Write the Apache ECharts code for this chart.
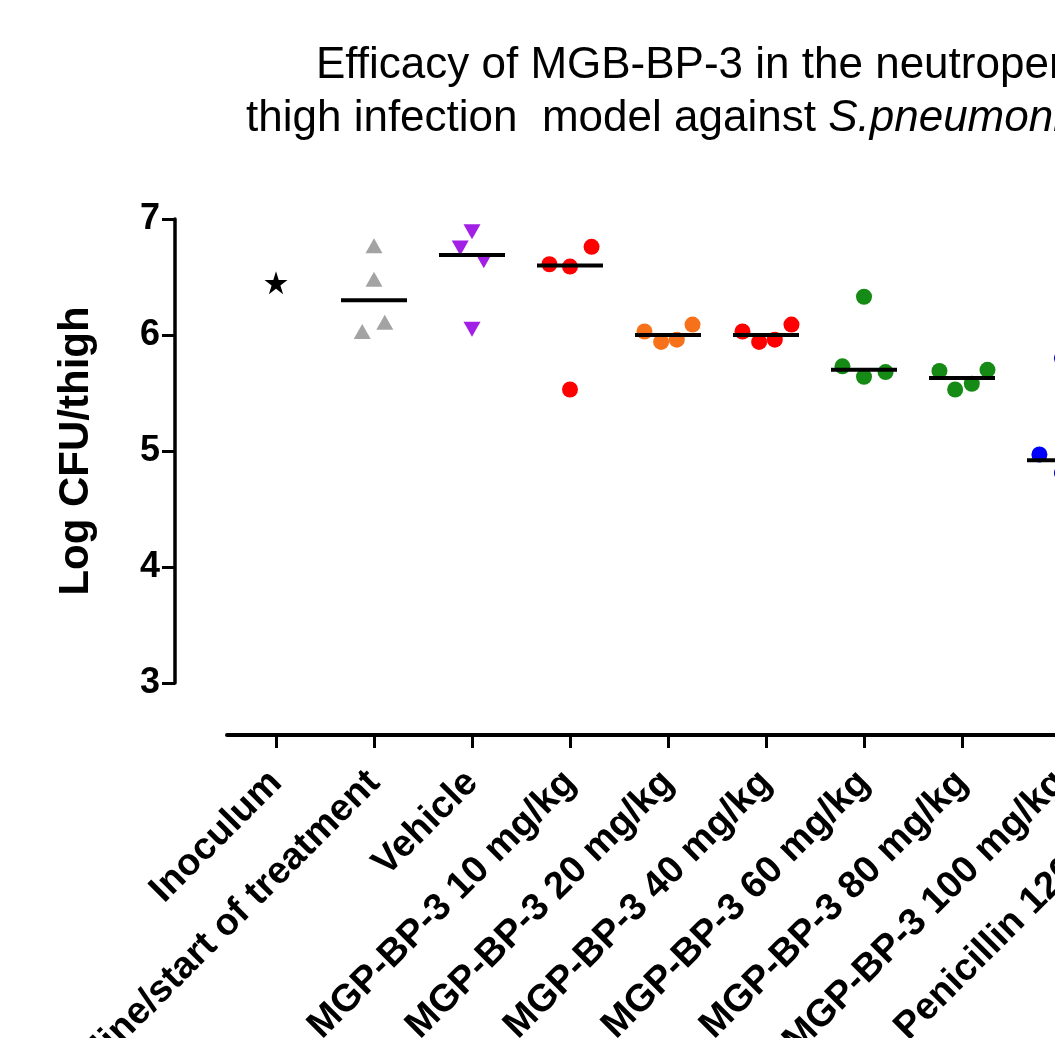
<!DOCTYPE html>
<html>
<head>
<meta charset="utf-8">
<script src="https://cdn.jsdelivr.net/npm/echarts@6/dist/echarts.min.js"></script>
<style>
html,body{margin:0;padding:0;background:#fff;}
#chart{width:1055px;height:1038px;}
</style>
</head>
<body>
<div id="chart"></div>
<script>
// ---- data ----
const categories = [
  'Inoculum',
  'Baseline/start of treatment',
  'Vehicle',
  'MGP-BP-3 10 mg/kg',
  'MGP-BP-3 20 mg/kg',
  'MGP-BP-3 40 mg/kg',
  'MGP-BP-3 60 mg/kg',
  'MGP-BP-3 80 mg/kg',
  'MGP-BP-3 100 mg/kg',
  'Penicillin 120 mg/kg'
];
const yTicks = [3, 4, 5, 6, 7];

// individual animals (log CFU/thigh), with horizontal scatter offsets (category units)
const inoculum      = [6.45];
const inoculumJit   = [0];
const timeZero      = [6.77, 6.48, 6.11, 6.03];
const timeZeroJit   = [0, 0, 0.11, -0.12];
const vehicle       = [6.89, 6.75, 6.64, 6.05];
const vehicleJit    = [0, -0.12, 0.12, 0];
const mgb10         = [6.61, 6.59, 6.76, 5.53];
const mgb10Jit      = [-0.21, 0, 0.22, 0];
const mgb20         = [6.03, 5.94, 5.96, 6.09];
const mgb20Jit      = [-0.24, -0.07, 0.09, 0.25];
const mgb40         = [6.03, 5.94, 5.96, 6.09];
const mgb40Jit      = [-0.24, -0.07, 0.09, 0.26];
const mgb60         = [6.33, 5.73, 5.64, 5.68];
const mgb60Jit      = [0, -0.22, 0, 0.22];
const mgb80         = [5.69, 5.53, 5.58, 5.70];
const mgb80Jit      = [-0.23, -0.07, 0.10, 0.26];
const mgb100        = [4.97, 5.80, 4.81, 4.87];
const mgb100Jit     = [-0.21, 0.02, 0.02, 0.22];

// group medians (horizontal bars)
const medianCats = [1, 2, 3, 4, 5, 6, 7, 8];
const medians    = [6.30, 6.69, 6.60, 6.00, 6.00, 5.70, 5.63, 4.92];

// ---- build ----
function pts(catIndex, vals, jit) {
  return vals.map((v, i) => [catIndex + jit[i], v]);
}
const FONT = '"Liberation Sans", Arial, Helvetica, sans-serif';
const starPath = 'path://M50,0 L61.2,34.5 L97.6,34.5 L68.2,55.9 L79.4,90.5 L50,69.1 L20.6,90.5 L31.8,55.9 L2.4,34.5 L38.8,34.5 Z';

function pointSeries(data, color, symbol, size, rotate) {
  return {
    type: 'scatter', xAxisIndex: 1, yAxisIndex: 0,
    data: data, symbol: symbol, symbolSize: size, symbolRotate: rotate || 0,
    itemStyle: { color: color, opacity: 1 },
    z: 2, silent: true, animation: false
  };
}

const chart = echarts.init(document.getElementById('chart'), null, { renderer: 'canvas' });
chart.setOption({
  backgroundColor: '#ffffff',
  animation: false,
  title: [
    {
      text: 'Efficacy of MGB-BP-3 in the neutropenic mouse',
      left: 316, top: 44, padding: 0,
      textStyle: { fontFamily: FONT, fontSize: 44, fontWeight: 'normal', color: '#000' }
    },
    {
      text: 'thigh infection  model against {i|S.pneumoniae}',
      left: 246, top: 97, padding: 0,
      textStyle: {
        fontFamily: FONT, fontSize: 44, fontWeight: 'normal', color: '#000',
        rich: { i: { fontFamily: FONT, fontSize: 44, fontStyle: 'italic', color: '#000' } }
      }
    }
  ],
  grid: {
    left: 227, top: 219, bottom: 355, width: 98 * categories.length,
    containLabel: false, outerBoundsMode: 'none'
  },
  xAxis: [
    {
      type: 'category', data: categories, position: 'bottom', offset: 52,
      boundaryGap: true,
      axisLine: { show: true, onZero: false, lineStyle: { color: '#000', width: 4 } },
      axisTick: { show: true, alignWithLabel: true, length: 13, lineStyle: { color: '#000', width: 3 } },
      axisLabel: {
        interval: 0, rotate: 45, margin: 42, hideOverlap: false,
        fontFamily: FONT, fontSize: 38, fontWeight: 'bold', color: '#000'
      },
      splitLine: { show: false }
    },
    {
      type: 'value', min: -0.5, max: categories.length - 0.5, show: false
    }
  ],
  yAxis: [{
    type: 'value', min: yTicks[0], max: yTicks[yTicks.length - 1], interval: 1, offset: 52,
    name: 'Log CFU/thigh', nameLocation: 'middle', nameGap: 78, nameRotate: 90,
    nameTextStyle: { fontFamily: FONT, fontSize: 42, fontWeight: 'bold', color: '#000' },
    axisLine: { show: true, onZero: false, lineStyle: { color: '#000', width: 3.5 } },
    axisTick: { show: true, length: 13, lineStyle: { color: '#000', width: 3 } },
    axisLabel: { margin: 15, fontFamily: FONT, fontSize: 36, fontWeight: 'bold', color: '#000' },
    splitLine: { show: false }
  }],
  series: [
    pointSeries(pts(0, inoculum, inoculumJit), '#000000', starPath, 23),
    pointSeries(pts(1, timeZero, timeZeroJit), '#a3a3a3', 'triangle', [17, 15]),
    pointSeries(pts(2, vehicle, vehicleJit), '#a21fe6', 'triangle', [17, 15], 180),
    pointSeries(pts(3, mgb10, mgb10Jit), '#ff0000', 'circle', 16),
    pointSeries(pts(4, mgb20, mgb20Jit), '#f7711a', 'circle', 16),
    pointSeries(pts(5, mgb40, mgb40Jit), '#ff0000', 'circle', 16),
    pointSeries(pts(6, mgb60, mgb60Jit), '#158a15', 'circle', 16),
    pointSeries(pts(7, mgb80, mgb80Jit), '#158a15', 'circle', 16),
    pointSeries(pts(8, mgb100, mgb100Jit), '#0000ff', 'circle', 16),
    {
      type: 'scatter', xAxisIndex: 1, yAxisIndex: 0,
      data: medianCats.map((c, i) => [c, medians[i]]),
      symbol: 'rect', symbolSize: [66, 4],
      itemStyle: { color: '#000', opacity: 1 }, z: 5, silent: true
    }
  ]
});
</script>
</body>
</html>
